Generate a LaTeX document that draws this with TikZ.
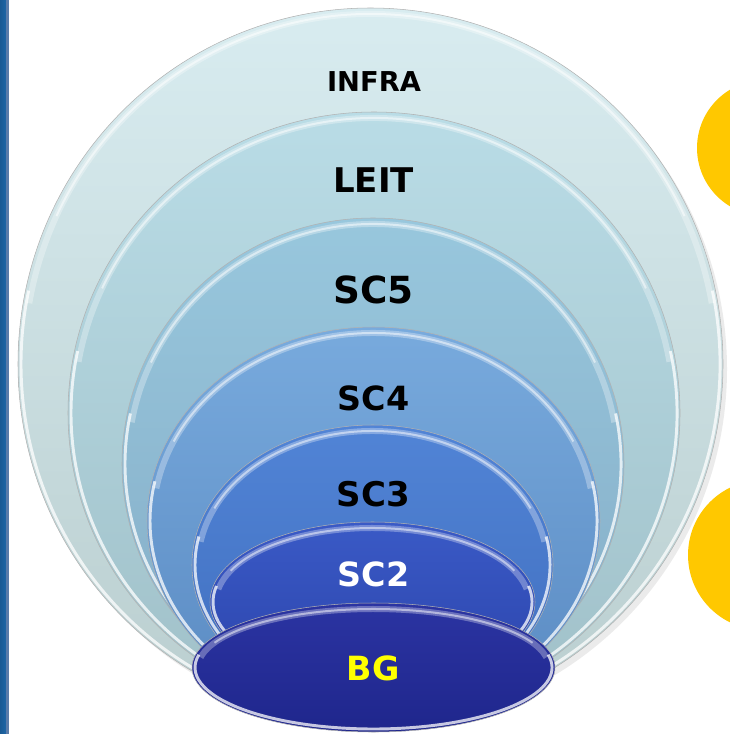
\documentclass[tikz,border=0pt]{standalone}
\usepackage{fontspec}
\setmainfont{DejaVu Sans}
\usetikzlibrary{calc}

\definecolor{barL}{HTML}{1A5A94}
\definecolor{barR}{HTML}{1F66A6}
\definecolor{barEdge}{HTML}{5A7CAA}
\definecolor{sunny}{HTML}{FFC800}
\definecolor{infraT}{HTML}{D8ECF0}
\definecolor{infraB}{HTML}{BACECF}
\definecolor{leitT}{HTML}{B9DCE6}
\definecolor{leitB}{HTML}{A0C0C8}
\definecolor{scfiveT}{HTML}{98C7DD}
\definecolor{scfiveB}{HTML}{84ACC6}
\definecolor{scfourT}{HTML}{78AADD}
\definecolor{scfourB}{HTML}{5A8AC2}
\definecolor{scthreeT}{HTML}{5184D6}
\definecolor{scthreeB}{HTML}{406EBE}
\definecolor{sctwoT}{HTML}{3A5AC6}
\definecolor{sctwoB}{HTML}{2C44AC}
\definecolor{bgT}{HTML}{2B34A2}
\definecolor{bgB}{HTML}{1F268C}
\definecolor{bgYellow}{HTML}{FFFF00}

\begin{document}
\begin{tikzpicture}[x=0.75pt,y=-0.75pt,
  ring/.style={draw=gray!60, line width=0.4pt},
  rimglow/.style={white, opacity=0.3, line width=4.5pt},
  rimtop/.style={white, opacity=0.5, line width=1.5pt},
  rimlow/.style={white, opacity=0.75, line width=2.2pt},
  ringtext/.style={inner sep=0pt, text=black}]
\useasboundingbox (0,0) rectangle (730,734);
\clip (0,0) rectangle (730,734);
% Side bar
\shade[left color=barL, right color=barR] (0,0) rectangle (6,734);
\fill[barEdge] (6,0) rectangle (8.5,734);
% Yellow blobs
\fill[sunny] (765,148) circle [radius=68];
\fill[sunny] (763,555) circle [radius=75];
% Shadow of the outer ring
\fill[black, opacity=0.08] (375,369) ellipse [x radius=352, y radius=356];
% Rings, outer to inner
\foreach \cx/\cy/\rx/\ry/\ct/\cb in {370.5/364/352.5/356/infraT/infraB,
    374/413/306/301/leitT/leitB,
    373/464/251/246/scfiveT/scfiveB,
    373.5/521/226.5/194/scfourT/scfourB,
    372.5/565/180.5/140/scthreeT/scthreeB,
    372.5/602/162.5/80/sctwoT/sctwoB,
    373.5/667.5/181.5/64.5/bgT/bgB}{
  \shade[top color=\ct, bottom color=\cb, ring] (\cx,\cy) ellipse [x radius=\rx, y radius=\ry];
  \draw[rimglow] (\cx,\cy) ++(190:{\rx-6} and {\ry-6})
    arc [start angle=190, end angle=350, x radius=\rx-6, y radius=\ry-6];
  \draw[rimtop] (\cx,\cy) ++(205:{\rx-6} and {\ry-6})
    arc [start angle=205, end angle=335, x radius=\rx-6, y radius=\ry-6];
  \draw[rimlow] (\cx,\cy) ++(-12:{\rx-3} and {\ry-3})
    arc [start angle=-12, end angle=192, x radius=\rx-3, y radius=\ry-3];
}
% Labels
\node[ringtext, font=\bfseries\fontsize{20.5}{24}\selectfont] (infra) at (374,82) {INFRA};
\node[ringtext, font=\bfseries\fontsize{25.5}{30}\selectfont] (leit) at (373.5,180) {LEIT};
\node[ringtext, font=\bfseries\fontsize{28}{32}\selectfont] (scfive) at (373.5,290) {SC5};
\node[ringtext, font=\bfseries\fontsize{25}{30}\selectfont] (scfour) at (373.5,398) {SC4};
\node[ringtext, font=\bfseries\fontsize{25.5}{30}\selectfont] (scthree) at (373.5,494) {SC3};
\node[ringtext, text=white, font=\bfseries\fontsize{25}{30}\selectfont] (sctwo) at (373.5,574) {SC2};
\node[ringtext, text=bgYellow, font=\bfseries\fontsize{25}{30}\selectfont] (bg) at (373,668) {BG};
\end{tikzpicture}
\end{document}
